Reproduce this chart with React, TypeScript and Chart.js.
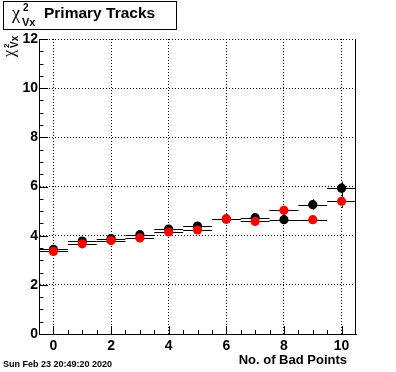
import React, { useEffect, useRef } from "react";
import { Chart, registerables } from "chart.js";

Chart.register(...registerables);

// ---- data ----
const badPoints = [0, 1, 2, 3, 4, 5, 6, 7, 8, 9, 10];
const blackValues = [3.44, 3.78, 3.88, 4.04, 4.27, 4.39, 4.68, 4.73, 4.65, 5.26, 5.93];
const blackErrors = [0.06, 0.07, 0.07, 0.08, 0.09, 0.1, 0.11, 0.12, 0.15, 0.22, 0.27];
const redValues = [3.36, 3.67, 3.8, 3.91, 4.15, 4.23, 4.67, 4.58, 5.03, 4.65, 5.4];
const redErrors = [0.05, 0.06, 0.07, 0.07, 0.08, 0.09, 0.1, 0.11, 0.18, 0.14, 0.28];
const binHalfWidth = 0.5;
const xMajorTicks = [0, 2, 4, 6, 8, 10];
const yMajorTicks = [0, 2, 4, 6, 8, 10, 12];
const xMinorTicks = [0, 0.5, 1, 1.5, 2, 2.5, 3, 3.5, 4, 4.5, 5, 5.5, 6, 6.5, 7, 7.5, 8, 8.5, 9, 9.5, 10];
const yMinorTicks = [0, 0.5, 1, 1.5, 2, 2.5, 3, 3.5, 4, 4.5, 5, 5.5, 6, 6.5, 7, 7.5, 8, 8.5, 9, 9.5, 10, 10.5, 11, 11.5, 12];
const xRange = [-0.5, 10.5];
const yRange = [0, 12];
const titleText = "Primary Tracks";
const xTitle = "No. of Bad Points";
const dateText = "Sun Feb 23 20:49:20 2020";

const FONT = "'Liberation Sans', Arial, Helvetica, sans-serif";
const SERIF = "'Liberation Serif', 'Times New Roman', serif";

const errors: number[][] = [blackErrors, redErrors];

const rootPlugin = {
  id: "rootDecor",
  beforeDatasetsDraw(chart: any) {
    const { ctx, chartArea, scales } = chart;
    const xs = scales.x;
    const ys = scales.y;
    ctx.save();
    ctx.strokeStyle = "#000";
    ctx.lineWidth = 1;
    ctx.beginPath();
    // right frame
    ctx.moveTo(Math.round(chartArea.right) - 0.5, chartArea.top);
    ctx.lineTo(Math.round(chartArea.right) - 0.5, chartArea.bottom);
    // x ticks (pointing up into plot)
    xMinorTicks.forEach((v) => {
      const px = Math.round(xs.getPixelForValue(v)) + 0.5;
      const len = xMajorTicks.includes(v) ? 8 : 4;
      ctx.moveTo(px, chartArea.bottom);
      ctx.lineTo(px, chartArea.bottom - len);
    });
    // y ticks (pointing right into plot)
    yMinorTicks.forEach((v) => {
      const py = Math.round(ys.getPixelForValue(v)) + 0.5;
      const len = yMajorTicks.includes(v) ? 9 : 4.5;
      ctx.moveTo(chartArea.left, py);
      ctx.lineTo(chartArea.left + len, py);
    });
    ctx.stroke();
    ctx.restore();
  },
  beforeDatasetDraw(chart: any, args: any) {
    const { ctx, scales } = chart;
    const xs = scales.x;
    const ys = scales.y;
    const ds = chart.data.datasets[args.index];
    const errs = errors[args.index];
    ctx.save();
    ctx.strokeStyle = "#000";
    ctx.lineWidth = 1;
    ctx.beginPath();
    ds.data.forEach((p: any, i: number) => {
      const py = Math.round(ys.getPixelForValue(p.y)) + 0.5;
      const x1 = xs.getPixelForValue(p.x - binHalfWidth);
      const x2 = xs.getPixelForValue(p.x + binHalfWidth);
      ctx.moveTo(x1, py);
      ctx.lineTo(x2, py);
      const px = Math.round(xs.getPixelForValue(p.x)) + 0.5;
      ctx.moveTo(px, ys.getPixelForValue(p.y - errs[i]));
      ctx.lineTo(px, ys.getPixelForValue(p.y + errs[i]));
    });
    ctx.stroke();
    ctx.restore();
  },
  afterDraw(chart: any) {
    const { ctx } = chart;
    ctx.save();
    // title box
    ctx.fillStyle = "#fff";
    ctx.fillRect(3.5, 1.5, 173, 28);
    ctx.strokeStyle = "#000";
    ctx.lineWidth = 1;
    ctx.strokeRect(3.5, 1.5, 173, 28);
    ctx.fillStyle = "#000";
    ctx.textBaseline = "alphabetic";
    ctx.textAlign = "left";
    ctx.font = `18px ${SERIF}`;
    ctx.fillText("χ", 12, 19);
    ctx.font = `bold 10px ${FONT}`;
    ctx.fillText("2", 23, 11);
    ctx.font = `bold 11px ${FONT}`;
    ctx.fillText("Vx", 22, 26);
    ctx.font = `bold 15.5px ${FONT}`;
    ctx.fillText(titleText, 44, 18);

    // y axis title (rotated)
    ctx.save();
    ctx.translate(14, 57);
    ctx.rotate(-Math.PI / 2);
    ctx.font = `16px ${SERIF}`;
    ctx.fillText("χ", 0, 0);
    ctx.font = `bold 8px ${FONT}`;
    ctx.fillText("2", 9, -5);
    ctx.font = `bold 10px ${FONT}`;
    ctx.fillText("Vx", 9, 4);
    ctx.restore();

    // x axis title
    ctx.font = `bold 13px ${FONT}`;
    ctx.textAlign = "right";
    ctx.fillText(xTitle, 347, 364);

    // date
    ctx.font = `bold 9px ${FONT}`;
    ctx.textAlign = "left";
    ctx.fillText(dateText, 3, 367);
    ctx.restore();
  },
};

export default function App() {
  const canvasRef = useRef<HTMLCanvasElement | null>(null);

  useEffect(() => {
    const canvas = canvasRef.current;
    if (!canvas) return;
    const chart = new Chart(canvas, {
      type: "scatter",
      data: {
        datasets: [
          {
            label: "black",
            data: badPoints.map((x, i) => ({ x, y: blackValues[i] })),
            backgroundColor: "#000000",
            borderWidth: 0,
            pointRadius: 4.6,
            pointHoverRadius: 4.6,
            order: 2,
          },
          {
            label: "red",
            data: badPoints.map((x, i) => ({ x, y: redValues[i] })),
            backgroundColor: "#ff0000",
            borderWidth: 0,
            pointRadius: 4.6,
            pointHoverRadius: 4.6,
            order: 1,
          },
        ],
      },
      options: {
        responsive: false,
        animation: false,
        devicePixelRatio: 1,
        layout: { padding: { top: 39, right: 40, left: 0, bottom: 0 } },
        plugins: {
          legend: { display: false },
          tooltip: { enabled: false },
        },
        events: [],
        scales: {
          x: {
            type: "linear",
            min: xRange[0],
            max: xRange[1],
            afterBuildTicks: (s: any) => {
              s.ticks = xMajorTicks.map((v) => ({ value: v }));
            },
            afterFit: (s: any) => {
              s.height = 38;
            },
            grid: { color: "#000", lineWidth: 1, drawTicks: false },
            border: { display: true, color: "#000", width: 1, dash: [1, 2] },
            ticks: {
              color: "#000",
              padding: 4,
              maxRotation: 0,
              autoSkip: false,
              font: { family: FONT, size: 14, weight: "bold" },
            },
          },
          y: {
            type: "linear",
            min: yRange[0],
            max: yRange[1],
            afterBuildTicks: (s: any) => {
              s.ticks = yMajorTicks.map((v) => ({ value: v }));
            },
            afterFit: (s: any) => {
              s.width = 39;
            },
            grid: { color: "#000", lineWidth: 1, drawTicks: false },
            border: { display: true, color: "#000", width: 1, dash: [1, 2] },
            ticks: {
              color: "#000",
              padding: 1,
              autoSkip: false,
              font: { family: FONT, size: 14, weight: "bold" },
            },
          },
        },
      },
      plugins: [rootPlugin],
    } as any);
    return () => chart.destroy();
  }, []);

  return (
    <div style={{ position: "absolute", left: 0, top: 0, width: 396, height: 372, background: "#fff" }}>
      <canvas ref={canvasRef} width={396} height={372} style={{ display: "block", width: 396, height: 372 }} />
    </div>
  );
}
